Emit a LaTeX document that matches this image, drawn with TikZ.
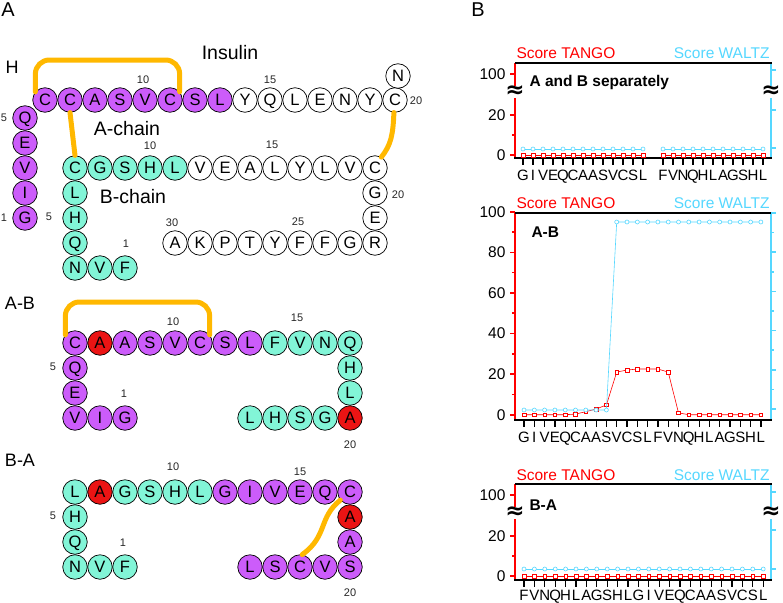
\documentclass[tikz,border=0pt]{standalone}
\usepackage{fontspec}
\setmainfont{Liberation Sans}
\newfontfamily\brkfont{DejaVu Sans}
\definecolor{apurple}{RGB}{204,92,250}
\definecolor{bcyan}{RGB}{130,245,215}
\definecolor{mutred}{RGB}{235,20,20}
\definecolor{ssorange}{RGB}{255,184,0}
\definecolor{tangored}{RGB}{255,0,0}
\definecolor{waltzcyan}{RGB}{85,215,255}

\begin{document}
\begin{tikzpicture}[
        x=1pt, y=-1pt,
        res/.style={circle, draw, line width=0.7pt, minimum size=24.5pt, inner sep=0pt, text height=11.8pt, text depth=0pt, font=\fontsize{16.5}{16.5}\selectfont, fill=#1},
        res/.default=white,
        ssbond/.style={draw=ssorange, line width=5pt, line cap=round, rounded corners=14pt},
        resno/.style={font=\fontsize{11}{11}\selectfont, text=black!85},
        chainlab/.style={font=\fontsize{19.5}{19.5}\selectfont},
        panel/.style={font=\fontsize{20}{20}\selectfont},
        tangoaxis/.style={tangored, line width=1.6pt},
        waltzaxis/.style={waltzcyan, line width=1.6pt},
        frameline/.style={black, line width=1.4pt},
        seqtick/.style={black, line width=1.2pt},
        ylab/.style={anchor=east, font=\fontsize{15.5}{15.5}\selectfont},
        seqlab/.style={text height=10.7pt, text depth=0pt, font=\fontsize{15}{15}\selectfont},
        scorelab/.style={font=\fontsize{15.5}{15.5}\selectfont},
        plottitle/.style={anchor=west, font=\fontsize{15.5}{15.5}\selectfont\bfseries},
        brk/.style={fill=white, inner sep=0.5pt, font=\brkfont\bfseries\fontsize{23}{23}\selectfont},
        tangoline/.style={tangored, line width=0.6pt},
        waltzline/.style={waltzcyan, line width=0.6pt},
        tsq/.style={draw=tangored, fill=white, line width=0.6pt},
        wdot/.style={draw=waltzcyan, fill=white, line width=0.6pt}
    ]
        \useasboundingbox (0,0) rectangle (783,602);

        % Panel labels
        \node[panel] (lblA) at (8,10) {A};
        \node[panel] (lblB) at (478,10) {B};

        % ---------------- Insulin ----------------
        \node[panel, font=\fontsize{18}{18}\selectfont] (lblH) at (12,67) {H};
        \node[chainlab] (insulin) at (230,53) {Insulin};
        \node[chainlab] (achain) at (127,129) {A-chain};
        \node[chainlab] (bchain) at (133,197) {B-chain};

        % A-chain
        \foreach \aa/\x/\y/\c [count=\i] in {G/25/218/apurple, I/25/193/apurple, V/25/168/apurple,
            E/25/143/apurple, Q/25/118/apurple, C/45/100/apurple, C/70/100/apurple, A/95/100/apurple,
            S/120/100/apurple, V/145/100/apurple, C/170/100/apurple, S/195/100/apurple, L/220/100/apurple,
            Y/245/100/white, Q/270/100/white, L/295/100/white, E/320/100/white, N/345/100/white,
            Y/370/100/white, C/395/100/white, N/398/76/white}
            \node[res=\c] (insA\i) at (\x,\y) {\aa};

        % B-chain
        \foreach \aa/\x/\y/\c [count=\i] in {F/125/268/bcyan, V/100/268/bcyan, N/75/268/bcyan,
            Q/75/243/bcyan, H/75/218/bcyan, L/75/193/bcyan, C/75/168/bcyan, G/100/168/bcyan,
            S/125/168/bcyan, H/150/168/bcyan, L/175/168/bcyan, V/200/168/white, E/225/168/white,
            A/250/168/white, L/275/168/white, Y/300/168/white, L/325/168/white, V/350/168/white,
            C/375/168/white, G/375/193/white, E/375/218/white, R/375/243/white, G/350/243/white,
            F/325/243/white, F/300/243/white, Y/275/243/white, T/250/243/white, P/225/243/white,
            K/200/243/white, A/175/243/white}
            \node[res=\c] (insB\i) at (\x,\y) {\aa};

        % Numbering
        \foreach \n/\x/\y [count=\i] in {5/4/118, 1/4/218, 10/143/80, 15/270/80, 20/416/101,
            10/150/146, 15/272/145, 5/49/217, 1/126/244, 20/398/195, 30/172/223, 25/298/222}
            \node[resno] (insno\i) at (\x,\y) {\n};

        % Disulfide bonds
        \coordinate (insloop) at (0,60);
        \draw[ssbond] (insA6.140) -- (insA6.140 |- insloop) -- (insA11.40 |- insloop) -- (insA11.40);
        \draw[ssbond] (insA7.south) -- (insB7.north);
        \draw[ssbond] (insA20.265) .. controls (393,135) and (391,145) .. (insB19.60);

        % ---------------- A-B ----------------
        \node[panel, font=\fontsize{18}{18}\selectfont] (lblAB) at (20,303) {A-B};
        \foreach \aa/\x/\y/\c [count=\i] in {G/125/418/apurple, I/100/418/apurple, V/75/418/apurple,
            E/75/393/apurple, Q/75/368/apurple, C/75/343/apurple, A/100/343/mutred, A/125/343/apurple,
            S/150/343/apurple, V/175/343/apurple, C/200/343/apurple, S/225/343/apurple, L/250/343/apurple,
            F/275/343/bcyan, V/300/343/bcyan, N/325/343/bcyan, Q/350/343/bcyan, H/350/368/bcyan,
            L/350/393/bcyan, A/350/418/mutred, G/325/418/bcyan, S/300/418/bcyan, H/275/418/bcyan,
            L/250/418/bcyan}
            \node[res=\c] (ab\i) at (\x,\y) {\aa};
        \foreach \n/\x/\y [count=\i] in {5/53/367, 1/124/394, 10/173/322, 15/297/318, 20/350/445}
            \node[resno] (abno\i) at (\x,\y) {\n};
        \coordinate (abloop) at (0,302);
        \draw[ssbond] (ab6.140) -- (ab6.140 |- abloop) -- (ab11.40 |- abloop) -- (ab11.40);

        % ---------------- B-A ----------------
        \node[panel, font=\fontsize{18}{18}\selectfont] (lblBA) at (20,460) {B-A};
        \foreach \aa/\x/\y/\c [count=\i] in {F/125/567/bcyan, V/100/567/bcyan, N/75/567/bcyan,
            Q/75/542/bcyan, H/75/517/bcyan, L/75/492/bcyan, A/100/492/mutred, G/125/492/bcyan,
            S/150/492/bcyan, H/175/492/bcyan, L/200/492/bcyan, G/225/492/apurple, I/250/492/apurple,
            V/275/492/apurple, E/300/492/apurple, Q/325/492/apurple, C/350/492/apurple,
            A/350/517/mutred, A/350/542/apurple, S/350/567/apurple, V/325/567/apurple,
            C/300/567/apurple, S/275/567/apurple, L/250/567/apurple}
            \node[res=\c] (ba\i) at (\x,\y) {\aa};
        \foreach \n/\x/\y [count=\i] in {5/53/516, 1/123/543, 10/173/467, 15/300/472, 20/350/593}
            \node[resno] (bano\i) at (\x,\y) {\n};
        \draw[ssbond] (ba17.220) .. controls (318,518) and (328,536) .. (ba22.80);

        % ---------------- Plot 1: A and B separately ----------------
        \node[scorelab, tangored, anchor=west] (p1tango) at (513,53) {Score TANGO};
        \node[scorelab, waltzcyan, anchor=east] (p1waltz) at (773,53) {Score WALTZ};
        \draw[tangoaxis] (515,63) -- (515,158);
        \draw[waltzaxis] (771,63) -- (771,158);
        \draw[frameline] (515,63) -- (772,63);
        \draw[frameline] (514,158) -- (772,158);
        \foreach \y/\lab in {155/0, 115/20, 74/100} {
            \draw[tangoaxis] (515,\y) -- (510,\y);
            \node[ylab] (p1y\lab) at (509,\y) {\lab};
        }
        \draw[tangoaxis] (515,135) -- (512,135);
        \foreach \y in {70,110,148}
            \draw[waltzaxis] (771,\y) -- (776,\y);
        \node[brk] (p1brkl) at (515,92) {≈};
        \node[brk] (p1brkr) at (771,92) {≈};
        \node[plottitle] (p1title) at (526,82) {A and B separately};
        % A-chain
        \draw[tangoline] (523,155) -- (643,155);
        \draw[waltzline] (523,149) -- (643,149);
        \foreach \aa [count=\i from 0] in {G,I,V,E,Q,C,A,A,S,V,C,S,L} {
            \draw[tsq] ({523+10*\i-1.8},153.2) rectangle ++(3.6,3.6);
            \draw[wdot] ({523+10*\i},149) circle[radius=2pt];
            \draw[seqtick] ({523+10*\i},159) -- ++(0,6);
            \node[seqlab] (p1a\i) at ({523+10*\i},175) {\aa};
        }
        % B-chain
        \draw[tangoline] (663,155) -- (763,155);
        \draw[waltzline] (663,149) -- (763,149);
        \foreach \aa [count=\i from 0] in {F,V,N,Q,H,L,A,G,S,H,L} {
            \draw[tsq] ({663+10*\i-1.8},153.2) rectangle ++(3.6,3.6);
            \draw[wdot] ({663+10*\i},149) circle[radius=2pt];
            \draw[seqtick] ({663+10*\i},159) -- ++(0,6);
            \node[seqlab] (p1b\i) at ({663+10*\i},175) {\aa};
        }

        % ---------------- Plot 2: A-B ----------------
        \node[scorelab, tangored, anchor=west] (p2tango) at (513,203) {Score TANGO};
        \node[scorelab, waltzcyan, anchor=east] (p2waltz) at (773,203) {Score WALTZ};
        \draw[tangoaxis] (515,213) -- (515,420);
        \draw[waltzaxis] (771,213) -- (771,420);
        \draw[frameline] (515,213) -- (772,213);
        \draw[frameline] (514,420) -- (772,420);
        \foreach \v in {0,20,...,100} {
            \draw[tangoaxis] (515,{414.7-2.03*\v}) -- ++(-5,0);
            \node[ylab] (p2y\v) at (509,{414.7-2.03*\v}) {\v};
        }
        \foreach \v in {10,30,...,90}
            \draw[tangoaxis] (515,{414.7-2.03*\v}) -- ++(-3,0);
        \foreach \k in {0,2,...,10}
            \draw[waltzaxis] (771,{409-19.6*\k}) -- ++(5,0);
        \foreach \k in {1,3,...,9}
            \draw[waltzaxis] (771,{409-19.6*\k}) -- ++(3,0);
        \node[plottitle] (p2title) at (528,232) {A-B};
        % TANGO
        \draw[tangoline] (524,414.7) \foreach \v [count=\i] in {0,0,0,0,0.3,1.5,2.8,4.8,21,22,22.5,22.5,22.5,21,0.9,0,0,0,0,0,0,0,0} { -- ({524+10.3*\i},{414.7-2.03*\v}) };
        \foreach \v [count=\i from 0] in {0,0,0,0,0,0.3,1.5,2.8,4.8,21,22,22.5,22.5,22.5,21,0.9,0,0,0,0,0,0,0,0}
            \draw[tsq] ({524+10.3*\i-1.8},{414.7-2.03*\v-1.8}) rectangle ++(3.6,3.6);
        % WALTZ
        \draw[waltzline] (524,410) -- (606.4,410) -- (616.7,222) -- (760.9,222);
        \foreach \i in {0,...,8}
            \draw[wdot] ({524+10.3*\i},410) circle[radius=2pt];
        \foreach \i in {9,...,23}
            \draw[wdot] ({524+10.3*\i},222) circle[radius=2pt];
        \foreach \aa [count=\i from 0] in {G,I,V,E,Q,C,A,A,S,V,C,S,L,F,V,N,Q,H,L,A,G,S,H,L} {
            \draw[seqtick] ({524+10.3*\i},421) -- ++(0,6);
            \node[seqlab] (p2s\i) at ({524+10.3*\i},437) {\aa};
        }

        % ---------------- Plot 3: B-A ----------------
        \node[scorelab, tangored, anchor=west] (p3tango) at (513,475) {Score TANGO};
        \node[scorelab, waltzcyan, anchor=east] (p3waltz) at (773,475) {Score WALTZ};
        \draw[tangoaxis] (515,484) -- (515,580);
        \draw[waltzaxis] (771,484) -- (771,580);
        \draw[frameline] (515,484) -- (772,484);
        \draw[frameline] (514,580) -- (772,580);
        \foreach \y/\lab in {576/0, 536/20, 495/100} {
            \draw[tangoaxis] (515,\y) -- (510,\y);
            \node[ylab] (p3y\lab) at (509,\y) {\lab};
        }
        \draw[tangoaxis] (515,556) -- (512,556);
        \foreach \y in {492,530,569}
            \draw[waltzaxis] (771,\y) -- (776,\y);
        \node[brk] (p3brkl) at (515,513) {≈};
        \node[brk] (p3brkr) at (771,513) {≈};
        \node[plottitle] (p3title) at (526,505) {B-A};
        \draw[tangoline] (524,576) -- (763.2,576);
        \draw[waltzline] (524,569) -- (763.2,569);
        \foreach \aa [count=\i from 0] in {F,V,N,Q,H,L,A,G,S,H,L,G,I,V,E,Q,C,A,A,S,V,C,S,L} {
            \draw[tsq] ({524+10.4*\i-1.8},574.2) rectangle ++(3.6,3.6);
            \draw[wdot] ({524+10.4*\i},569) circle[radius=2pt];
            \draw[seqtick] ({524+10.4*\i},581) -- ++(0,6);
            \node[seqlab] (p3s\i) at ({524+10.4*\i},595) {\aa};
        }

    \end{tikzpicture}
\end{document}
